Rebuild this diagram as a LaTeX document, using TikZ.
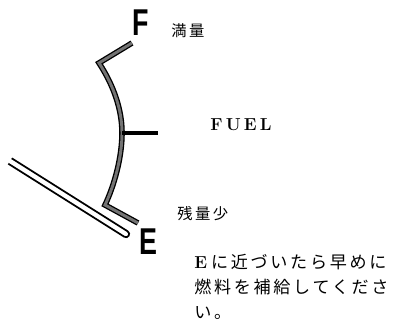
\documentclass[tikz,border=0pt]{standalone}
\usepackage{fontspec}
\newfontfamily\jpfont[LetterSpace=16]{Noto Sans CJK JP}
\newfontfamily\dialfont{Liberation Sans}
\begin{document}
\begin{tikzpicture}[x=0.75pt,y=-0.75pt,
        dial/.style={draw=black,line width=1pt,double=black!55,double distance=2.2pt,line join=miter},
        needle/.style={draw=black,line width=1.3pt,fill=white},
        dialletter/.style={inner sep=0pt,font=\dialfont\bfseries\fontsize{28}{28}\selectfont},
        jplabel/.style={inner sep=0pt,anchor=west,font=\jpfont\fontsize{11.5}{12}\selectfont}]
        \useasboundingbox (0,0) rectangle (395,327);
        %% Needle
        \begin{scope}[shift={(10,161)},rotate=-32.2]
            \draw[needle] (0,-3.2) -- (137,-3.2) .. controls (141.3,-3.2) and (141.3,3.2) .. (137,3.2) -- (0,3.2);
        \end{scope}
        %% Dial and ticks
        \draw[dial] (132,43) -- (99,63) .. controls (114,86) and (122,110) .. (122,133)
            .. controls (122,158) and (114,186) .. (105,205) -- (138,223);
        \draw[line width=2.4pt] (122,133) -- (158,133);
        %% F and E
        \node[dialletter] (full) at (140.5,23) {\scalebox{0.72}[1]{F}};
        \node[dialletter] (empty) at (148.5,241.5) {\scalebox{0.72}[1]{E}};
        %% Labels
        \node[jplabel] (fulltxt) at (171,31) {満量};
        \node[inner sep=0pt,font=\bfseries\fontsize{13}{13}\selectfont] (fuel) at (241,125) {F\hspace{2.4pt}U\hspace{2.4pt}E\hspace{2.4pt}L};
        \node[jplabel] (lowtxt) at (177,214) {残量少};
        \node[jplabel,align=left,font=\jpfont\fontsize{12.8}{18.75}\selectfont] (note) at (194,287)
            {{\rmfamily\bfseries\fontsize{13}{13}\selectfont E}\hspace{3pt}に近づいたら早めに\\燃料を補給してくださ\\い。};
\end{tikzpicture}
\end{document}
